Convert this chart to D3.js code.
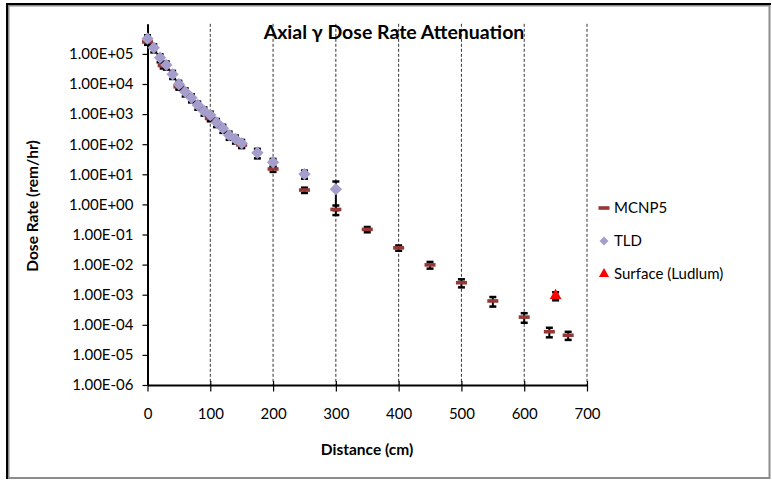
<!DOCTYPE html>
<html>
<head>
<meta charset="utf-8">
<script src="https://cdn.jsdelivr.net/npm/d3@7"></script>
<style>
  body { margin: 0; background: #fff; }
  text { font-family: Lato, "Open Sans", sans-serif; fill: #000; }
</style>
</head>
<body>
<script>
// data
const mcnpDist = [0, 25, 50, 100, 150, 200, 250, 300, 350, 400, 450, 500, 550, 600, 640, 670];
const mcnpDose = [2.5e5, 4.1e4, 8.1e3, 7.2e2, 94, 15, 3.0, 0.68, 0.148, 0.036, 0.0098, 2.5e-3, 6.2e-4, 1.8e-4, 5.9e-5, 4.5e-5];
const mcnpErr  = [0.2, 0.2, 0.2, 0.2, 0.2, 0.2, 0.2, 0.35, 0.2, 0.2, 0.25, 0.3, 0.35, 0.35, 0.35, 0.3];

const tldDist = [0, 10, 20, 30, 40, 50, 60, 70, 80, 90, 100, 110, 120, 130, 140, 150, 175, 200, 250, 300];
const tldDose = [3.2e5, 1.6e5, 7.5e4, 4.3e4, 2.1e4, 9.8e3, 5.5e3, 3.5e3, 2.0e3, 1.27e3, 9.3e2, 5.3e2, 3.4e2, 2.0e2, 1.5e2, 1.07e2, 52, 25, 10.2, 3.2];
const tldErr  = [0.3, 0.3, 0.3, 0.3, 0.3, 0.3, 0.3, 0.3, 0.3, 0.3, 0.3, 0.3, 0.3, 0.3, 0.3, 0.3, 0.35, 0.3, 0.3, 0.8];

const ludDist = [650];
const ludDose = [9.3e-4];
const ludErr  = [0.3];

const xTicks = [0, 100, 200, 300, 400, 500, 600, 700];
const yTicks = [1e-6, 1e-5, 1e-4, 1e-3, 1e-2, 1e-1, 1e0, 1e1, 1e2, 1e3, 1e4, 1e5];
const yTickLabels = ["1.00E-06", "1.00E-05", "1.00E-04", "1.00E-03", "1.00E-02", "1.00E-01",
                     "1.00E+00", "1.00E+01", "1.00E+02", "1.00E+03", "1.00E+04", "1.00E+05"];
const legendNames = ["MCNP5", "TLD", "Surface (Ludlum)"];

const width = 772, height = 480;
const red = "#953735", purple = "#a59dcb";

const svg = d3.select("body").append("svg")
  .attr("width", width)
  .attr("height", height);

// chart frame
svg.append("rect")
  .attr("x", 8.5).attr("y", 5.5).attr("width", 761).attr("height", 472.5)
  .attr("fill", "none").attr("stroke", "#8c8c8c").attr("stroke-width", 2);
svg.append("path")
  .attr("d", "M7,479V4H771")
  .attr("fill", "none").attr("stroke", "#000").attr("stroke-width", 2);

// scales
const x = d3.scaleLinear().domain([0, 700]).range([147.5, 587]);
const y = d3.scaleLog().domain([1e-6, 1e6]).range([385, 23.8]);

// vertical dashed gridlines
svg.append("g")
  .selectAll("line")
  .data(xTicks.slice(1))
  .join("line")
  .attr("x1", d => x(d)).attr("x2", d => x(d))
  .attr("y1", y(1e6)).attr("y2", y(1e-6))
  .attr("stroke", "#333")
  .attr("stroke-width", 1)
  .attr("stroke-dasharray", "3,2");

// axes
const yAxis = d3.axisLeft(y)
  .tickValues(yTicks)
  .tickFormat((d, i) => yTickLabels[i])
  .tickSize(5)
  .tickPadding(9)
  .tickSizeOuter(0);

svg.append("g")
  .attr("transform", `translate(${x(0)},0)`)
  .call(yAxis)
  .call(g => g.select(".domain").attr("stroke-width", 2))
  .call(g => g.selectAll(".tick line").attr("stroke-width", 1.2))
  .call(g => g.selectAll("text").style("font-size", "15px").style("font-family", "Lato"));

const xAxis = d3.axisBottom(x)
  .tickValues(xTicks)
  .tickSize(6.5)
  .tickPadding(17)
  .tickSizeOuter(0);

svg.append("g")
  .attr("transform", `translate(0,${y(1e-6)})`)
  .call(xAxis)
  .call(g => g.select(".domain").attr("stroke-width", 2))
  .call(g => g.selectAll(".tick line").attr("y1", -4).attr("stroke-width", 1.2))
  .call(g => g.selectAll("text").style("font-size", "15px").style("font-family", "Lato"));

// error bars
function errorBars(dist, dose, err) {
  const rows = dist.map((d, i) => ({ d, v: dose[i], e: err[i] }));
  const g = svg.append("g").attr("stroke", "#000");
  g.selectAll(".stem").data(rows).join("line")
    .attr("x1", r => x(r.d)).attr("x2", r => x(r.d))
    .attr("y1", r => y(r.v * (1 + r.e))).attr("y2", r => y(r.v * (1 - r.e)))
    .attr("stroke-width", 2);
  g.selectAll(".cap").data(rows.flatMap(r => [r.v * (1 + r.e), r.v * (1 - r.e)].map(v => ({ d: r.d, v }))))
    .join("line")
    .attr("x1", r => x(r.d) - 3.5).attr("x2", r => x(r.d) + 3.5)
    .attr("y1", r => y(r.v)).attr("y2", r => y(r.v))
    .attr("stroke-width", 2.5);
}
errorBars(tldDist, tldDose, tldErr);
errorBars(mcnpDist, mcnpDose, mcnpErr);
errorBars(ludDist, ludDose, ludErr);

// MCNP5 dashes
svg.append("g")
  .selectAll("rect")
  .data(mcnpDist.map((d, i) => [d, mcnpDose[i]]))
  .join("rect")
  .attr("x", d => x(d[0]) - 5.5)
  .attr("y", d => y(d[1]) - 1.8)
  .attr("width", 11).attr("height", 3.6)
  .attr("fill", red);

// TLD diamonds
const diamond = d3.symbol().type(d3.symbolSquare).size(76);
svg.append("g")
  .selectAll("path")
  .data(tldDist.map((d, i) => [d, tldDose[i]]))
  .join("path")
  .attr("d", diamond)
  .attr("transform", d => `translate(${x(d[0])},${y(d[1])}) rotate(45)`)
  .attr("fill", purple);

// Surface (Ludlum) triangles
const tri = d3.symbol().type(d3.symbolTriangle).size(60);
svg.append("g")
  .selectAll("path")
  .data(ludDist.map((d, i) => [d, ludDose[i]]))
  .join("path")
  .attr("d", tri)
  .attr("transform", d => `translate(${x(d[0])},${y(d[1])})`)
  .attr("fill", "#ff0000");

// title and axis titles
svg.append("text")
  .attr("x", 394).attr("y", 39)
  .attr("text-anchor", "middle")
  .style("font-size", "19.5px").style("font-weight", "bold")
  .text("Axial γ Dose Rate Attenuation");

svg.append("text")
  .attr("transform", "translate(38,206) rotate(-90)")
  .attr("text-anchor", "middle")
  .style("font-size", "15.5px").style("font-weight", "bold")
  .text("Dose Rate (rem/hr)");

svg.append("text")
  .attr("x", 367).attr("y", 455)
  .attr("text-anchor", "middle")
  .style("font-size", "15.5px").style("font-weight", "bold")
  .text("Distance (cm)");

// legend
const legend = svg.append("g").attr("transform", "translate(604,208)");
const items = legend.selectAll("g")
  .data(legendNames)
  .join("g")
  .attr("transform", (d, i) => `translate(0,${i * 33})`);

items.filter((d, i) => i === 0).append("rect")
  .attr("x", -5.5).attr("y", -1.8).attr("width", 11).attr("height", 3.6).attr("fill", red);
items.filter((d, i) => i === 1).append("path")
  .attr("d", d3.symbol().type(d3.symbolSquare).size(40)).attr("transform", "rotate(45)").attr("fill", purple);
items.filter((d, i) => i === 2).append("path")
  .attr("d", d3.symbol().type(d3.symbolTriangle).size(45)).attr("fill", "#ff0000");

items.append("text")
  .attr("x", 10).attr("dy", "0.35em")
  .style("font-size", "15px")
  .text(d => d);
</script>
</body>
</html>
